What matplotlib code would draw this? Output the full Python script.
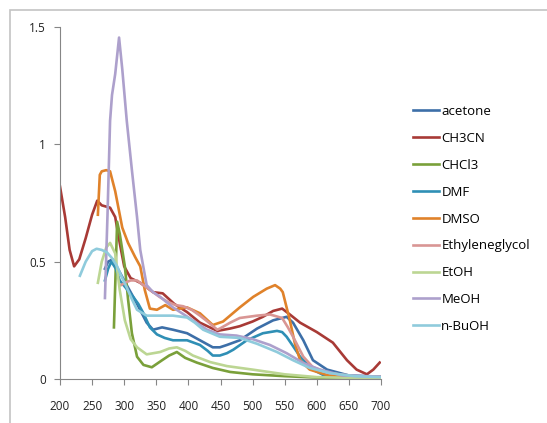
import matplotlib
matplotlib.use('Agg')
import matplotlib.pyplot as plt
from matplotlib.patches import Rectangle

plt.rcParams['font.family'] = ['Open Sans', 'DejaVu Sans']

# wavelength (nm) / absorbance
acetone_x = [270, 275, 282, 290, 300, 310, 320, 335, 345, 359, 376, 398, 418, 438, 449, 460, 480, 507, 532, 553, 563, 579, 594, 616, 650, 700]
acetone_y = [0.47, 0.50, 0.51, 0.47, 0.42, 0.37, 0.32, 0.24, 0.21, 0.22, 0.21, 0.195, 0.165, 0.135, 0.135, 0.145, 0.165, 0.215, 0.25, 0.265, 0.24, 0.165, 0.08, 0.04, 0.015, 0.01]

ch3cn_x = [200, 208, 215, 222, 230, 240, 250, 258, 265, 278, 286, 293, 300, 310, 325, 345, 360, 378, 398, 418, 445, 465, 480, 500, 516, 532, 546, 558, 574, 600, 625, 647, 662, 678, 688, 698]
ch3cn_y = [0.82, 0.69, 0.55, 0.48, 0.51, 0.60, 0.70, 0.76, 0.74, 0.73, 0.69, 0.58, 0.48, 0.43, 0.41, 0.37, 0.365, 0.32, 0.285, 0.24, 0.205, 0.215, 0.225, 0.245, 0.265, 0.29, 0.30, 0.275, 0.24, 0.20, 0.155, 0.08, 0.04, 0.02, 0.04, 0.07]

chcl3_x = [284, 289, 293, 301, 306, 312, 320, 330, 343, 359, 370, 382, 395, 413, 438, 465, 500, 550, 600, 650, 700]
chcl3_y = [0.22, 0.67, 0.62, 0.48, 0.34, 0.195, 0.095, 0.06, 0.05, 0.08, 0.10, 0.115, 0.09, 0.07, 0.047, 0.03, 0.02, 0.012, 0.006, 0.004, 0.003]

dmf_x = [270, 275, 280, 287, 293, 305, 314, 322, 330, 340, 351, 363, 376, 390, 398, 418, 430, 438, 449, 460, 470, 491, 516, 538, 546, 553, 563, 574, 594, 610, 640, 700]
dmf_y = [0.42, 0.47, 0.50, 0.47, 0.42, 0.38, 0.35, 0.32, 0.28, 0.22, 0.19, 0.175, 0.165, 0.165, 0.165, 0.145, 0.12, 0.10, 0.10, 0.11, 0.125, 0.165, 0.195, 0.205, 0.20, 0.18, 0.14, 0.095, 0.04, 0.017, 0.008, 0.005]

dmso_x = [259, 262, 265, 272, 278, 286, 297, 306, 317, 325, 332, 340, 351, 364, 376, 387, 398, 418, 438, 454, 480, 501, 522, 535, 543, 547, 558, 566, 574, 589, 616, 650, 700]
dmso_y = [0.70, 0.87, 0.885, 0.89, 0.885, 0.80, 0.645, 0.58, 0.52, 0.48, 0.38, 0.30, 0.295, 0.315, 0.295, 0.30, 0.305, 0.28, 0.23, 0.245, 0.305, 0.35, 0.385, 0.40, 0.385, 0.37, 0.25, 0.15, 0.08, 0.04, 0.017, 0.01, 0.008]

eg_x = [295, 301, 310, 320, 330, 340, 355, 367, 380, 392, 405, 418, 432, 445, 449, 465, 480, 507, 527, 546, 555, 563, 579, 594, 620, 660, 700]
eg_y = [0.40, 0.41, 0.42, 0.42, 0.40, 0.38, 0.35, 0.33, 0.315, 0.31, 0.295, 0.27, 0.24, 0.21, 0.215, 0.24, 0.26, 0.27, 0.275, 0.26, 0.22, 0.18, 0.095, 0.05, 0.025, 0.012, 0.01]

etoh_x = [259, 265, 272, 278, 286, 293, 301, 310, 320, 335, 356, 370, 382, 395, 407, 434, 460, 500, 550, 600, 650, 700]
etoh_y = [0.41, 0.50, 0.56, 0.58, 0.535, 0.38, 0.25, 0.17, 0.135, 0.105, 0.115, 0.13, 0.135, 0.12, 0.10, 0.072, 0.055, 0.04, 0.02, 0.008, 0.005, 0.004]

meoh_x = [270, 274, 278, 281, 286, 292, 297, 304, 312, 320, 325, 335, 345, 356, 376, 407, 429, 449, 475, 500, 527, 553, 579, 605, 640, 700]
meoh_y = [0.345, 0.70, 1.10, 1.21, 1.30, 1.455, 1.32, 1.10, 0.89, 0.69, 0.55, 0.40, 0.37, 0.35, 0.305, 0.25, 0.21, 0.19, 0.185, 0.17, 0.145, 0.11, 0.068, 0.04, 0.015, 0.01]

nbuoh_x = [231, 240, 250, 257, 265, 273, 281, 289, 297, 304, 312, 320, 335, 350, 376, 398, 410, 423, 449, 480, 507, 538, 563, 589, 620, 660, 700]
nbuoh_y = [0.44, 0.50, 0.545, 0.555, 0.55, 0.54, 0.515, 0.48, 0.43, 0.39, 0.34, 0.295, 0.27, 0.27, 0.27, 0.262, 0.24, 0.21, 0.18, 0.175, 0.15, 0.115, 0.08, 0.047, 0.025, 0.012, 0.008]

series = [
    ('acetone', acetone_x, acetone_y, '#3d6fa8'),
    ('CH3CN', ch3cn_x, ch3cn_y, '#a83a36'),
    ('CHCl3', chcl3_x, chcl3_y, '#7aa03a'),
    ('DMF', dmf_x, dmf_y, '#2f8fb5'),
    ('DMSO', dmso_x, dmso_y, '#e0822a'),
    ('Ethyleneglycol', eg_x, eg_y, '#d99694'),
    ('EtOH', etoh_x, etoh_y, '#bcd693'),
    ('MeOH', meoh_x, meoh_y, '#ada0cc'),
    ('n-BuOH', nbuoh_x, nbuoh_y, '#8fcbdc'),
]

fig = plt.figure(figsize=(5.47, 4.23), dpi=100)
fig.patches.append(Rectangle((10 / 547, -0.1), 1.2, 1 - 10 / 423 + 0.1, transform=fig.transFigure,
                             fill=False, edgecolor='#c4c4c4', linewidth=1.2))
ax = fig.add_axes([60 / 547, 1 - 379 / 423, 321 / 547, 352 / 423])

for name, xs, ys, c in series:
    ax.plot(xs, ys, color=c, lw=1.9, label=name, solid_joinstyle='round')

ax.set_xlim(200, 700)
ax.set_ylim(0, 1.5)
ax.set_xticks(range(200, 701, 50))
ax.set_yticks([0, 0.5, 1, 1.5])
ax.set_yticklabels(['0', '0.5', '1', '1.5'])
for s in ['top', 'right']:
    ax.spines[s].set_visible(False)
for s in ['left', 'bottom']:
    ax.spines[s].set_color('#868686')
ax.tick_params(axis='both', colors='#868686', labelcolor='#222222', labelsize=8.5, length=4, width=0.8)
ax.tick_params(axis='x', pad=11)
ax.tick_params(axis='y', pad=6)

fig.legend(loc='center left', bbox_to_anchor=(413 / 547, 1 - 219 / 423), frameon=False,
           fontsize=9.5, handlelength=2.0, handletextpad=0.15, labelspacing=1.05,
           borderpad=0, borderaxespad=0)

fig.savefig('out.png', dpi=100)
